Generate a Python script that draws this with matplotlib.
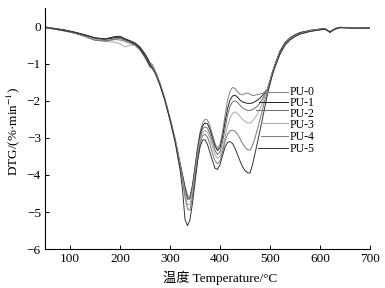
import numpy as np
import matplotlib
matplotlib.use("Agg")
import matplotlib.pyplot as plt

plt.rcParams['font.family'] = ['Liberation Serif', 'Noto Sans CJK SC', 'DejaVu Sans']
plt.rcParams['mathtext.fontset'] = 'stix'

# temperature grid (deg C) shared by all curves
temp = [50, 70, 90, 110, 130, 150, 170, 190, 200, 210, 220, 230, 240, 250, 255,
        260, 265, 270, 280, 290, 300, 310, 320, 325, 330, 335, 340, 345, 350, 355,
        360, 365, 370, 375, 380, 385, 390, 395, 400, 405, 410, 415, 420, 425, 430,
        435, 440, 445, 450, 455, 460, 465, 470, 475, 480, 485, 490, 495, 500, 505,
        510, 520, 530, 540, 550, 560, 580, 600, 610, 620, 630, 640, 660, 680, 700]

pu0 = [-0.02, -0.06, -0.10, -0.16, -0.24, -0.33, -0.35, -0.28, -0.30, -0.35, -0.40, -0.46, -0.58, -0.75, -0.86,
       -0.98, -1.02, -1.18, -1.52, -1.95, -2.45, -3.00, -3.65, -3.98, -4.30, -4.55, -4.58, -4.25, -3.75, -3.25,
       -2.85, -2.60, -2.50, -2.52, -2.68, -2.92, -3.15, -3.28, -3.18, -2.85, -2.40, -2.00, -1.74, -1.64, -1.67,
       -1.76, -1.82, -1.84, -1.80, -1.79, -1.82, -1.86, -1.85, -1.83, -1.82, -1.80, -1.76, -1.68, -1.45, -1.22,
       -1.02, -0.68, -0.45, -0.31, -0.23, -0.17, -0.11, -0.06, -0.06, -0.15, -0.06, -0.02, -0.03, -0.04, -0.03]

pu1 = [-0.01, -0.05, -0.09, -0.15, -0.22, -0.30, -0.33, -0.27, -0.26, -0.33, -0.38, -0.44, -0.55, -0.74, -0.85,
       -1.00, -1.08, -1.20, -1.55, -1.98, -2.50, -3.05, -3.70, -4.02, -4.35, -4.62, -4.62, -4.30, -3.82, -3.32,
       -2.92, -2.68, -2.60, -2.62, -2.78, -3.00, -3.22, -3.34, -3.26, -2.98, -2.58, -2.22, -1.98, -1.87, -1.85,
       -1.90, -1.98, -2.03, -2.05, -2.07, -2.07, -2.06, -2.02, -1.98, -1.93, -1.86, -1.78, -1.68, -1.46, -1.22,
       -1.02, -0.66, -0.43, -0.30, -0.22, -0.16, -0.10, -0.07, -0.05, -0.16, -0.05, -0.02, -0.03, -0.04, -0.03]

pu2 = [-0.03, -0.07, -0.12, -0.18, -0.26, -0.36, -0.38, -0.33, -0.32, -0.37, -0.42, -0.48, -0.60, -0.80, -0.92,
       -1.05, -1.10, -1.22, -1.56, -1.98, -2.50, -3.06, -3.72, -4.05, -4.40, -4.66, -4.65, -4.32, -3.85, -3.38,
       -3.00, -2.76, -2.70, -2.74, -2.90, -3.12, -3.34, -3.45, -3.38, -3.12, -2.76, -2.40, -2.15, -2.03, -2.00,
       -2.04, -2.12, -2.19, -2.23, -2.26, -2.26, -2.24, -2.20, -2.14, -2.06, -1.95, -1.82, -1.68, -1.47, -1.24,
       -1.04, -0.70, -0.46, -0.32, -0.24, -0.18, -0.11, -0.07, -0.06, -0.14, -0.06, -0.02, -0.03, -0.04, -0.03]

pu3 = [-0.02, -0.06, -0.11, -0.17, -0.25, -0.34, -0.40, -0.42, -0.47, -0.55, -0.50, -0.50, -0.62, -0.82, -0.95,
       -1.10, -1.05, -1.20, -1.55, -1.96, -2.48, -3.05, -3.74, -4.10, -4.50, -4.80, -4.80, -4.45, -3.96, -3.48,
       -3.08, -2.85, -2.80, -2.85, -3.02, -3.24, -3.45, -3.55, -3.50, -3.28, -2.98, -2.68, -2.46, -2.34, -2.30,
       -2.34, -2.42, -2.50, -2.56, -2.60, -2.60, -2.55, -2.46, -2.36, -2.22, -2.05, -1.86, -1.68, -1.48, -1.25,
       -1.05, -0.72, -0.48, -0.34, -0.25, -0.19, -0.12, -0.08, -0.07, -0.13, -0.07, -0.03, -0.03, -0.04, -0.04]

pu4 = [-0.03, -0.07, -0.12, -0.18, -0.27, -0.37, -0.39, -0.35, -0.36, -0.40, -0.45, -0.50, -0.63, -0.84, -0.96,
       -1.08, -1.15, -1.25, -1.58, -2.00, -2.52, -3.08, -3.78, -4.16, -4.60, -4.92, -4.95, -4.58, -4.06, -3.56,
       -3.16, -2.94, -2.90, -2.98, -3.18, -3.42, -3.62, -3.70, -3.62, -3.38, -3.10, -2.90, -2.81, -2.79, -2.82,
       -2.90, -3.02, -3.15, -3.25, -3.32, -3.33, -3.20, -3.00, -2.76, -2.50, -2.24, -1.96, -1.72, -1.50, -1.27,
       -1.07, -0.73, -0.49, -0.35, -0.26, -0.20, -0.13, -0.08, -0.07, -0.14, -0.06, -0.03, -0.03, -0.04, -0.04]

pu5 = [-0.02, -0.06, -0.11, -0.16, -0.23, -0.31, -0.34, -0.30, -0.28, -0.34, -0.40, -0.47, -0.60, -0.80, -0.93,
       -1.06, -1.12, -1.24, -1.58, -2.00, -2.52, -3.10, -3.85, -4.40, -5.20, -5.37, -5.20, -4.75, -4.20, -3.65,
       -3.25, -3.06, -3.05, -3.18, -3.40, -3.62, -3.82, -3.85, -3.72, -3.48, -3.25, -3.12, -3.10, -3.15, -3.28,
       -3.45, -3.62, -3.78, -3.88, -3.94, -3.95, -3.72, -3.42, -3.12, -2.80, -2.48, -2.15, -1.82, -1.55, -1.30,
       -1.09, -0.74, -0.50, -0.36, -0.27, -0.20, -0.13, -0.09, -0.07, -0.14, -0.07, -0.03, -0.04, -0.04, -0.04]

names = ['PU-0', 'PU-1', 'PU-2', 'PU-3', 'PU-4', 'PU-5']
series = [pu0, pu1, pu2, pu3, pu4, pu5]
colors = ['#808080', '#222222', '#6e6e6e', '#a8a8a8', '#777777', '#333333']

# leader lines: start temperature, y level; label y levels
lead_x0 = [495, 477, 471, 481, 481, 475]
lead_y = [-1.75, -2.02, -2.26, -2.59, -2.95, -3.26]
label_y = [-1.76, -2.06, -2.36, -2.65, -2.98, -3.29]

fig = plt.figure(figsize=(3.85, 2.88), dpi=100)
ax = fig.add_axes([0.117, 0.135, 0.844, 0.837])

for name, vals, c in zip(names, series, colors):
    ax.plot(temp, vals, color=c, lw=0.7)

for name, x0, y, ty, c in zip(names, lead_x0, lead_y, label_y, colors):
    ax.plot([x0, 535], [y, y], color=c, lw=0.7)
    ax.text(539, ty, name, fontsize=8.5, va='center', ha='left')

ax.set_xlim(50, 700)
ax.set_ylim(-6, 0.5)
ax.set_xticks([100, 200, 300, 400, 500, 600, 700])
ax.set_yticks([0, -1, -2, -3, -4, -5, -6])
ax.spines['top'].set_visible(False)
ax.spines['right'].set_visible(False)
ax.tick_params(direction='in', length=3, width=0.7, labelsize=9.5, pad=3)
for s in ['left', 'bottom']:
    ax.spines[s].set_linewidth(0.8)

ax.set_xlabel('温度 Temperature/°C', fontsize=9.5)
ax.xaxis.set_label_coords(0.54, -0.09)
ax.set_ylabel('DTG/(%·min$^{-1}$)', fontsize=9.5)
ax.yaxis.set_label_coords(-0.072, 0.49)

fig.savefig('out.png', dpi=100)
